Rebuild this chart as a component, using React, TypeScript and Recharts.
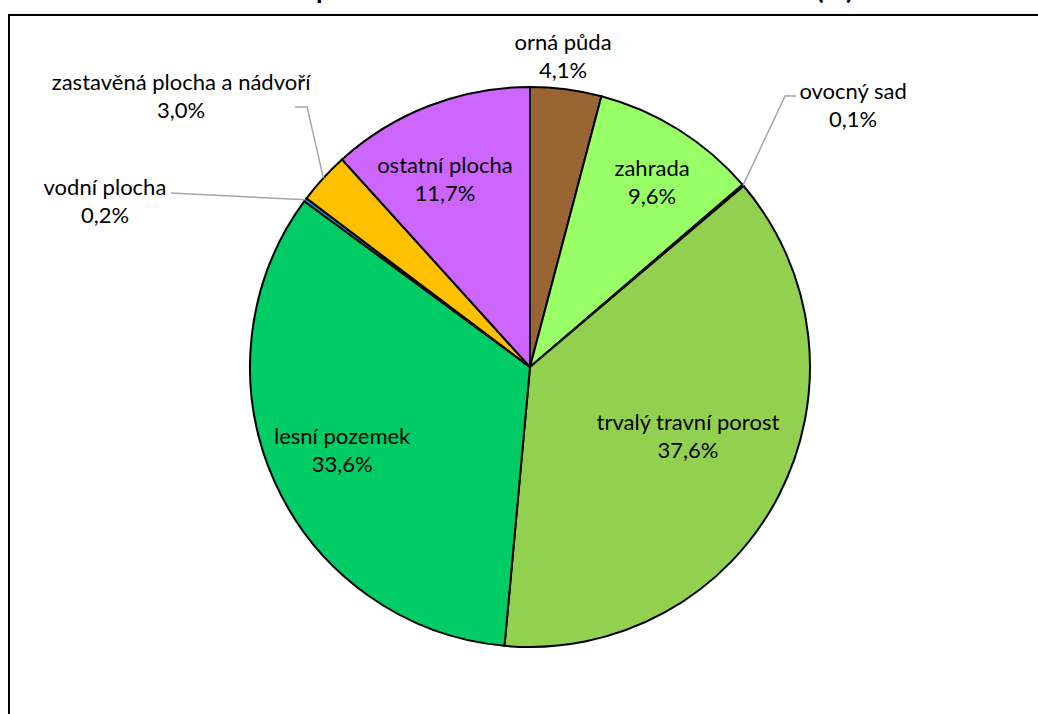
import React from "react";
import { PieChart, Pie, Cell } from "recharts";

// land categories, clockwise from 12 o'clock
const categories = [
    "orná půda",
    "zahrada",
    "ovocný sad",
    "trvalý travní porost",
    "lesní pozemek",
    "vodní plocha",
    "zastavěná plocha a nádvoří",
    "ostatní plocha",
];

const shares = [4.1, 9.6, 0.1, 37.6, 33.6, 0.2, 3.0, 11.7];

const colors = [
    "#996633",
    "#99FF66",
    "#339933",
    "#92D050",
    "#00CC66",
    "#00B0F0",
    "#FFC000",
    "#CC66FF",
];

const title = "Struktura půdního fondu v katastrálním území obce (%)";

const data = categories.map((name, i) => ({ name, value: shares[i] }));

// label centres and leader line bends, in units of the pie radius from its centre
const labelLayout: Record<
    string,
    { lx: number; ly: number; bend?: [number, number][] }
> = {
    "orná půda": { lx: 0.118, ly: -1.111 },
    zahrada: { lx: 0.436, ly: -0.661 },
    "ovocný sad": {
        lx: 1.154,
        ly: -0.939,
        bend: [
            [0.911, -0.968],
            [0.95, -0.968],
        ],
    },
    "trvalý travní porost": { lx: 0.564, ly: 0.243 },
    "lesní pozemek": { lx: -0.671, ly: 0.293 },
    "vodní plocha": { lx: -1.518, ly: -0.593, bend: [[-1.282, -0.621]] },
    "zastavěná plocha a nádvoří": {
        lx: -1.246,
        ly: -0.968,
        bend: [
            [-0.796, -0.929],
            [-0.839, -0.929],
        ],
    },
    "ostatní plocha": { lx: -0.304, ly: -0.675 },
};

const RADIAN = Math.PI / 180;
const FONT = "Lato, 'Open Sans', sans-serif";

const fmt = (v: number) => v.toFixed(1).replace(".", ",") + "%";

const renderLabel = (props: any) => {
    const { cx, cy, midAngle, outerRadius, name, value } = props;
    const layout = labelLayout[name];
    if (!layout) return null;
    const x = cx + layout.lx * outerRadius;
    const y = cy + layout.ly * outerRadius;
    let line: string | null = null;
    if (layout.bend) {
        const ex = cx + Math.cos(-RADIAN * midAngle) * outerRadius;
        const ey = cy + Math.sin(-RADIAN * midAngle) * outerRadius;
        const pts = [
            [ex, ey],
            ...layout.bend.map(([bx, by]) => [cx + bx * outerRadius, cy + by * outerRadius]),
        ];
        line = pts.map((p) => p.join(",")).join(" ");
    }
    return (
        <g key={`lbl-${name}`}>
            {line && (
                <polyline
                    points={line}
                    fill="none"
                    stroke="#A6A6A6"
                    strokeWidth={1.5}
                />
            )}
            <text
                x={x}
                y={y}
                textAnchor="middle"
                fontFamily={FONT}
                fontSize={22}
                fill="#000"
            >
                <tspan x={x} y={y - 14} dominantBaseline="central">
                    {name}
                </tspan>
                <tspan x={x} y={y + 14} dominantBaseline="central">
                    {fmt(value)}
                </tspan>
            </text>
        </g>
    );
};

export default function App() {
    document.body.style.margin = "0";
    document.body.style.overflow = "hidden";

    return (
        <div style={{ position: "relative", width: 1038, height: 714, background: "#fff" }}>
            <svg
                width={1038}
                height={714}
                style={{ position: "absolute", left: 0, top: 0 }}
            >
                <rect
                    x={9}
                    y={15}
                    width={1100}
                    height={800}
                    fill="none"
                    stroke="#000"
                    strokeWidth={2}
                />
                <text
                    x={525}
                    y={-1}
                    textAnchor="middle"
                    fontFamily={FONT}
                    fontWeight="bold"
                    fontSize={27}
                    fill="#000"
                >
                    {title}
                </text>
            </svg>
            <div style={{ position: "absolute", left: 0, top: 0 }}>
                <PieChart
                    width={1038}
                    height={714}
                    margin={{ top: 0, right: 0, bottom: 0, left: 0 }}
                >
                    <Pie
                        data={data}
                        dataKey="value"
                        nameKey="name"
                        cx={530}
                        cy={367}
                        outerRadius={280}
                        startAngle={90}
                        endAngle={-270}
                        stroke="#000"
                        strokeWidth={2}
                        label={renderLabel}
                        labelLine={false}
                        isAnimationActive={false}
                    >
                        {data.map((d, i) => (
                            <Cell key={d.name} fill={colors[i]} />
                        ))}
                    </Pie>
                </PieChart>
            </div>
        </div>
    );
}
